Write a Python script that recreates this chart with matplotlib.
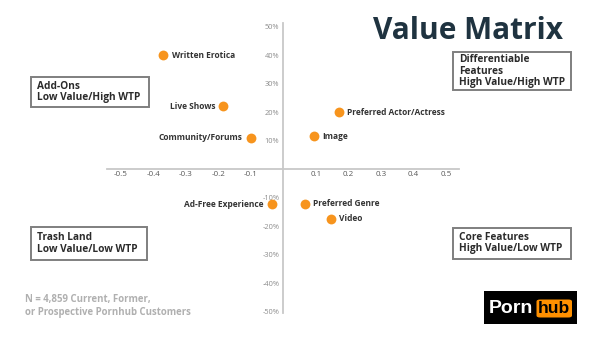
import matplotlib
matplotlib.use("Agg")
import matplotlib.pyplot as plt
from matplotlib.patches import Rectangle, FancyBboxPatch
from matplotlib.ticker import FuncFormatter

plt.rcParams["font.family"] = ["Open Sans", "DejaVu Sans"]

# Feature positions: relative value (x) vs. willingness to pay (y)
features = ["Written Erotica", "Live Shows", "Community/Forums", "Image",
            "Preferred Actor/Actress", "Ad-Free Experience", "Preferred Genre", "Video"]
value = [-0.37, -0.185, -0.10, 0.095, 0.17, -0.035, 0.065, 0.145]
wtp = [0.40, 0.22, 0.11, 0.115, 0.20, -0.123, -0.122, -0.175]
label_side = ["right", "left", "left", "right", "right", "left", "right", "right"]

x_ticks = [-0.5, -0.4, -0.3, -0.2, -0.1, 0.1, 0.2, 0.3, 0.4, 0.5]
y_ticks = [-0.5, -0.4, -0.3, -0.2, -0.1, 0.1, 0.2, 0.3, 0.4, 0.5]

quadrants = [
    ("Differentiable\nFeatures\nHigh Value/High WTP", (453, 52, 571, 90)),
    ("Add-Ons\nLow Value/High WTP", (31, 77, 149, 107)),
    ("Trash Land\nLow Value/Low WTP", (31, 227, 147, 260)),
    ("Core Features\nHigh Value/Low WTP", (453, 228, 571, 259)),
]

W, H = 600, 337
fig = plt.figure(figsize=(W / 100, H / 100), dpi=100)
fig.patch.set_facecolor("white")


def fx(px):
    return px / W


def fy(py):
    return 1 - py / H


ax = fig.add_axes([fx(106.7), fy(313), fx(459) - fx(106.7), fy(23) - fy(313)])
ax.set_xlim(-0.544, 0.54)
ax.set_ylim(-0.505, 0.513)
ax.set_facecolor("white")

for side in ["top", "right"]:
    ax.spines[side].set_visible(False)
ax.spines["left"].set_position(("data", 0))
ax.spines["bottom"].set_position(("data", 0))
for side in ["left", "bottom"]:
    ax.spines[side].set_color("#c8c8c8")
    ax.spines[side].set_linewidth(1.3)

ax.set_xticks(x_ticks)
ax.set_yticks(y_ticks)
ax.xaxis.set_major_formatter(FuncFormatter(lambda v, p: f"{v:.1f}"))
ax.yaxis.set_major_formatter(FuncFormatter(lambda v, p: f"{v * 100:.0f}%"))
ax.tick_params(axis="x", length=0, pad=1.5, labelsize=5.8, labelcolor="#595959")
ax.tick_params(axis="y", length=0, pad=3, labelsize=5.3, labelcolor="#8c8c8c")

ax.scatter(value, wtp, s=50, color="#F7941D", zorder=3, linewidths=0)
for name, xv, yv, side in zip(features, value, wtp, label_side):
    off = 6 if side == "right" else -6
    ax.annotate(name, (xv, yv), xytext=(off, 0), textcoords="offset points",
                ha="left" if side == "right" else "right", va="center",
                fontsize=6.0, fontweight="bold", color="#333333")

# Title
fig.text(fx(562.7), fy(39), "Value Matrix", ha="right", va="baseline",
         fontsize=21.5, fontweight="bold", color="#1f3340")

# Quadrant boxes
for text, (x0, y0, x1, y1) in quadrants:
    fig.add_artist(Rectangle((fx(x0), fy(y1)), fx(x1) - fx(x0), fy(y0) - fy(y1),
                             transform=fig.transFigure, facecolor="white",
                             edgecolor="#7f7f7f", linewidth=1.4))
    fig.text(fx(x0 + 6), (fy(y0) + fy(y1)) / 2, text, ha="left", va="center",
             fontsize=7.3, fontweight="bold", color="#2b2b2b", linespacing=1.0)

# Sample note
fig.text(fx(25), fy(306), "N = 4,859 Current, Former,\nor Prospective Pornhub Customers",
         ha="left", va="center", fontsize=6.9, fontweight="bold",
         color="#b0b0b0", linespacing=1.15)

# Logo
fig.add_artist(Rectangle((fx(484), fy(324)), fx(577) - fx(484), fy(291) - fy(324),
                         transform=fig.transFigure, facecolor="black", edgecolor="none"))
fig.add_artist(FancyBboxPatch((fx(536.5), fy(317.5)), fx(572) - fx(536.5), fy(299.5) - fy(317.5),
                              boxstyle="round,pad=0,rounding_size=0.006",
                              transform=fig.transFigure, facecolor="#FF9000",
                              edgecolor="none"))
fig.text(fx(488.5), fy(308.5), "Porn", ha="left", va="center", fontsize=14,
         fontweight="bold", color="white", family=["Liberation Sans", "DejaVu Sans"])
fig.text(fx(554.3), fy(308.5), "hub", ha="center", va="center", fontsize=12.5,
         fontweight="bold", color="black", family=["Liberation Sans", "DejaVu Sans"])

fig.savefig("out.png", dpi=100, facecolor="white")
